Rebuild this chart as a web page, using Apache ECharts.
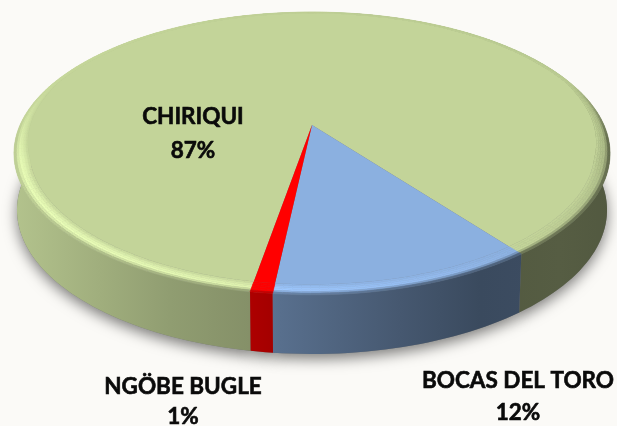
<!DOCTYPE html>
<html>
<head>
<meta charset="utf-8">
<style>
  html, body { margin: 0; padding: 0; background: #fbfaf7; }
  #chart { width: 617px; height: 426px; }
</style>
</head>
<body>
<div id="chart"></div>
<script src="https://cdn.jsdelivr.net/npm/echarts@6/dist/echarts.min.js"></script>
<script>
  // slice data
  const sliceNames = ['CHIRIQUI', 'BOCAS DEL TORO', 'NGÖBE BUGLE'];
  const sliceValues = [87, 12, 1];
  const sliceColors = [[195, 212, 153], [139, 176, 224], [255, 0, 0]];

  // where each label sits (name line, value line)
  const labelX = [193, 518, 183];
  const labelNameY = [117, 381, 387];
  const labelValueY = [151, 413, 417];

  const START_ANGLE = 189.8;
  const STEP = 1.5;
  const BEVEL = 0.05;
  // tilted disc: top plane and bottom plane of the pie
  const TOP = { cx: 312, cy: 125, a: 135.7, b: 292 };
  const BOTTOM = { cx: 312, cy: 181, a: 138.2, b: 289 };
  const K = 0.201;
  // side shading read left to right
  const shadeX = [13, 100, 170, 250, 280, 400, 480, 560, 611];
  const shadeF = [0.92, 0.82, 0.74, 0.68, 0.63, 0.5, 0.42, 0.44, 0.42];

  const total = sliceValues.reduce((s, v) => s + v, 0);

  const project = (plane, deg, r) => {
    const t = (deg * Math.PI) / 180;
    const u = r * Math.sin(t);
    const v = -r * Math.cos(t);
    const d = 1 - K * v;
    return [plane.cx + (plane.b * u) / d, plane.cy + (plane.a * v) / d];
  };

  const sideShade = (x) => {
    for (let i = 1; i < shadeX.length; i++) {
      if (x <= shadeX[i]) {
        const f = (x - shadeX[i - 1]) / (shadeX[i] - shadeX[i - 1]);
        return shadeF[i - 1] + (shadeF[i] - shadeF[i - 1]) * Math.max(f, 0);
      }
    }
    return shadeF[shadeF.length - 1];
  };

  const rgb = (c, f) =>
    'rgb(' + c.map((n) => Math.min(255, Math.round(n * f))).join(',') + ')';

  // 0 at the back of the disc, 1 towards the viewer
  const frontness = (deg) => {
    const c = -Math.cos((deg * Math.PI) / 180);
    return Math.min(1, Math.max(0, (c + 0.35) / 0.6));
  };

  // the rim is narrow and faint at the back
  const rimInner = (deg) => 1 - BEVEL * (0.3 + 0.7 * frontness(deg));

  // how much a rim spot brightens or darkens
  const rimLight = (deg) =>
    0.2 * Math.cos(((deg - 230) * Math.PI) / 180) * (0.2 + 0.8 * frontness(deg));

  const rimColor = (color, deg, t, x) => {
    const bump = Math.sin(Math.min(t / 0.7, 1) * Math.PI * 0.5);
    let f = 1 + rimLight(deg) * bump;
    const front = Math.sin(((deg - 90) * Math.PI) / 180);
    if (t > 0.65 && front > -0.3) {
      const m = ((t - 0.65) / 0.35) * Math.min(1, (front + 0.3) / 0.4);
      f = f + (sideShade(x) - f) * m;
    }
    return rgb(color, f);
  };

  const quad = (pts, fill, z2) => ({
    type: 'polygon',
    z2: z2,
    silent: true,
    shape: { points: pts },
    style: { fill: fill, stroke: fill, lineWidth: 0.5 },
  });

  const sideGradient = (color) =>
    new echarts.graphic.LinearGradient(
      shadeX[0],
      0,
      shadeX[shadeX.length - 1],
      0,
      shadeX.map((x, j) => ({
        offset: (x - shadeX[0]) / (shadeX[shadeX.length - 1] - shadeX[0]),
        color: rgb(color, shadeF[j]),
      })),
      true
    );

  const renderSlice = (params, api) => {
    const i = params.dataIndex;
    const value = api.value(0);
    const before = sliceValues.slice(0, i).reduce((s, v) => s + v, 0);
    const start = START_ANGLE + (before / total) * 360;
    const span = (value / total) * 360;
    const n = Math.ceil(span / STEP);
    const color = sliceColors[i];
    const children = [];

    const arc = [];
    const rimArc = [];
    const baseArc = [];
    for (let s = 0; s <= n; s++) {
      const deg = start + (span * s) / n;
      arc.push(project(TOP, deg, rimInner(deg)));
      rimArc.push(project(TOP, deg, 1));
      baseArc.push(project(BOTTOM, deg, 1));
    }

    // soft shadow on the paper
    children.push({
      type: 'polygon',
      z2: 0,
      silent: true,
      shape: { points: [[BOTTOM.cx, BOTTOM.cy]].concat(baseArc) },
      style: {
        fill: '#777',
        shadowColor: 'rgba(0,0,0,0.5)',
        shadowBlur: 14,
        shadowOffsetY: 5,
      },
    });

    // side wall
    children.push({
      type: 'polygon',
      z2: 1,
      silent: true,
      shape: { points: rimArc.concat(baseArc.slice().reverse()) },
      style: { fill: sideGradient(color) },
    });

    // rounded rim
    for (let s = 0; s < n; s++) {
      const d0 = start + (span * s) / n;
      const d1 = start + (span * (s + 1)) / n;
      const mid = (d0 + d1) / 2;
      const midX = project(TOP, mid, 1)[0];
      const in0 = rimInner(d0);
      const in1 = rimInner(d1);
      for (let b = 0; b < 6; b++) {
        const t0 = b / 6;
        const t1 = (b + 1) / 6;
        children.push(
          quad(
            [
              project(TOP, d0, in0 + (1 - in0) * t0),
              project(TOP, d1, in1 + (1 - in1) * t0),
              project(TOP, d1, in1 + (1 - in1) * t1),
              project(TOP, d0, in0 + (1 - in0) * t1),
            ],
            rimColor(color, mid, (b + 0.5) / 6, midX),
            2
          )
        );
      }
    }

    // top face
    children.push({
      type: 'polygon',
      z2: 3,
      silent: true,
      shape: { points: [[TOP.cx, TOP.cy]].concat(arc) },
      style: { fill: rgb(color, 1) },
    });

    const labelStyle = {
      fontFamily: 'Lato',
      fontWeight: 'bold',
      fontSize: 22.5,
      fill: '#0a0a0a',
      stroke: '#0a0a0a',
      lineWidth: 0.6,
      align: 'center',
      verticalAlign: 'middle',
    };
    children.push({
      type: 'text',
      z2: 5,
      silent: true,
      x: labelX[i],
      y: labelNameY[i],
      style: Object.assign({ text: sliceNames[i] }, labelStyle),
    });
    children.push({
      type: 'text',
      z2: 5,
      silent: true,
      x: labelX[i],
      y: labelValueY[i],
      style: Object.assign({ text: value + '%' }, labelStyle),
    });

    return { type: 'group', children: children };
  };

  const chartInstance = echarts.init(document.getElementById('chart'));
  chartInstance.setOption({
    animation: false,
    backgroundColor: '#fbfaf7',
    tooltip: { show: false },
    series: [
      {
        type: 'custom',
        coordinateSystem: 'none',
        renderItem: renderSlice,
        data: sliceValues.map((v) => [v]),
        encode: { value: 0 },
      },
    ],
  });
</script>
</body>
</html>
